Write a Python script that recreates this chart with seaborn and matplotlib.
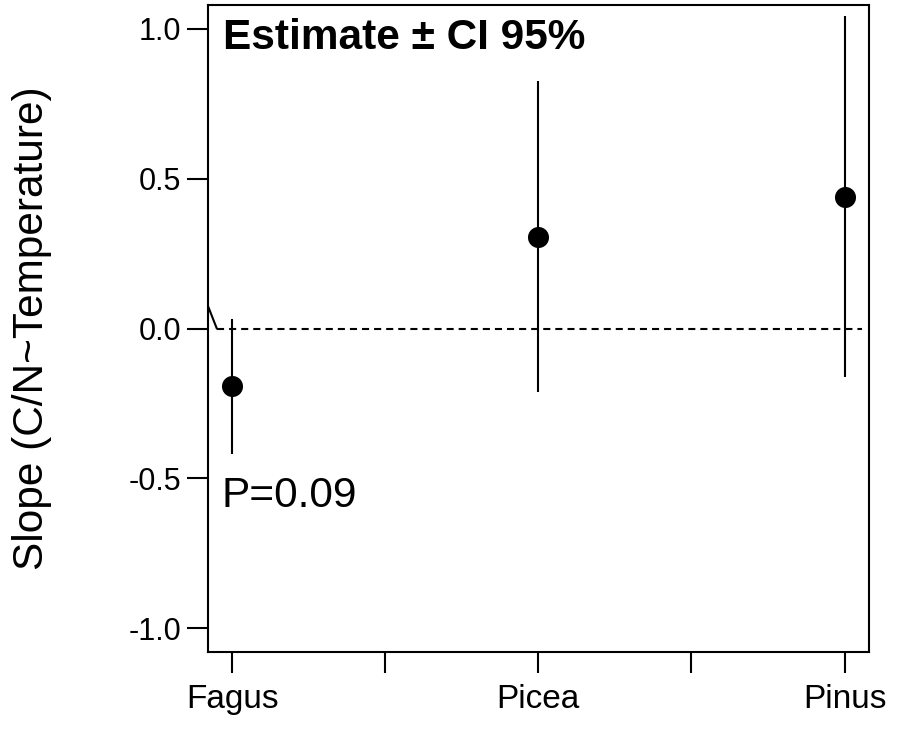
import matplotlib
matplotlib.use("Agg")
import matplotlib.pyplot as plt
import seaborn as sns
import pandas as pd

sns.set_style("white")
plt.rcParams['font.family'] = ['Liberation Sans', 'DejaVu Sans']
plt.rcParams.update({"text.color": "black", "axes.labelcolor": "black",
                     "xtick.color": "black", "ytick.color": "black"})

# data
species = ["Fagus", "Picea", "Pinus"]
estimate = [-0.19, 0.305, 0.44]
ci_low = [-0.417, -0.213, -0.16]
ci_high = [0.033, 0.825, 1.044]
p_label = "P=0.09"

# zero reference line and the small stray segment near it
zero_line_x = [-0.05, 2.057]
stray_x = [-0.09, -0.05]
stray_y = [0.104, 0.0]

df = pd.DataFrame({"species": species, "estimate": estimate,
                   "lo": ci_low, "hi": ci_high})

fig = plt.figure(figsize=(9.10, 7.42), dpi=100)
ax = fig.add_axes([0.2282, 0.1209, 0.955 - 0.2282, 0.9933 - 0.1209])

pos = list(range(len(species)))
ax.vlines(pos, df["lo"], df["hi"], color="black", lw=1.5, zorder=2)
sns.scatterplot(data=df, x="species", y="estimate", ax=ax, color="black",
                s=230, edgecolor="black", linewidth=0, zorder=3)

ax.plot(zero_line_x, [0, 0], color="black", lw=1.5, ls=(0, (3.4, 2.4)), zorder=1)
ax.plot(stray_x, stray_y, color="black", lw=1.5, zorder=1)

ax.set_xlim(-0.08, 2.08)
ax.set_ylim(-1.08, 1.08)
ax.set_xticks([0, 0.5, 1, 1.5, 2])
ax.set_xticklabels(["Fagus", "", "Picea", "", "Pinus"], fontsize=24)
ax.set_yticks([-1.0, -0.5, 0.0, 0.5, 1.0])
ax.set_yticklabels(["-1.0", "-0.5", "0.0", "0.5", "1.0"], fontsize=22)
ax.tick_params(axis="both", direction="out", length=15, width=1.5,
               color="black", labelcolor="black", left=True, bottom=True)
ax.tick_params(axis="y", pad=4)
ax.tick_params(axis="x", pad=8)

for s in ax.spines.values():
    s.set_visible(True)
    s.set_color("black")
    s.set_linewidth(1.5)

ax.set_xlabel("")
ax.set_ylabel("Slope (C/N~Temperature)", fontsize=30.5, color="black")
ax.yaxis.set_label_coords(-0.235, 0.5)

ax.text(0.0227, 0.9316, "Estimate \u00b1 CI 95%", transform=ax.transAxes,
        fontsize=30.5, fontweight="bold", ha="left", va="baseline")
ax.text(0.021, 0.2249, p_label, transform=ax.transAxes,
        fontsize=30.5, ha="left", va="baseline")

fig.savefig("out.png", dpi=100, facecolor="white")
